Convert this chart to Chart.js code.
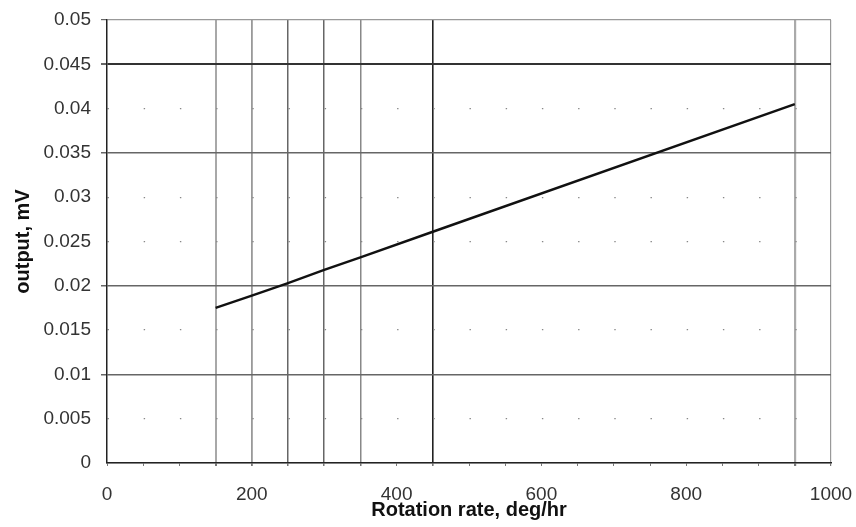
<!DOCTYPE html>
<html>
<head>
<meta charset="utf-8">
<script src="https://cdn.jsdelivr.net/npm/chart.js@4.4.0/dist/chart.umd.min.js"></script>
<style>
html,body{margin:0;padding:0;background:#fff;}
#wrap{width:856px;height:527px;}
</style>
</head>
<body>
<div id="wrap"><canvas id="c" width="856" height="527"></canvas></div>
<script>
// Data
const rotationRates = [150, 200, 250, 300, 350, 450, 950];
const outputMv = [0.0175, 0.0189, 0.0203, 0.0218, 0.0232, 0.0261, 0.0405];
const xLabelValues = [0, 200, 400, 600, 800, 1000];
const yLabelValues = [0, 0.005, 0.01, 0.015, 0.02, 0.025, 0.03, 0.035, 0.04, 0.045, 0.05];
const verticalRefLines = [150, 200, 250, 300, 350, 450, 950];
const horizontalRefLines = [0.01, 0.02, 0.035, 0.045];

const near = (a, b) => Math.abs(a - b) < 1e-9;
const inList = (v, list) => list.some(x => near(x, v));

const vStyle = {150:['#a8a8a8',2], 200:['#999',1.8], 250:['#666',1.5], 300:['#666',1.5], 350:['#888',1.5], 450:['#222',1.6], 950:['#aaa',2.2], 1000:['#999',1.2]};

const data = rotationRates.map((x, i) => ({x: x, y: outputMv[i]}));
const tickFont = {family: 'Liberation Sans', size: 19};
const titleFont = {family: 'Liberation Sans', size: 20, weight: 'bold'};

new Chart(document.getElementById('c'), {
  type: 'scatter',
  data: {
    datasets: [{
      data: data,
      showLine: true,
      borderColor: '#111',
      borderWidth: 2.4,
      pointRadius: 0,
      tension: 0
    }]
  },
  options: {
    responsive: false,
    animation: false,
    devicePixelRatio: 1,
    plugins: { legend: {display: false}, tooltip: {enabled: false} },
    layout: { padding: {left: 0, right: 25, top: 20, bottom: 0} },
    scales: {
      x: {
        type: 'linear', min: 0, max: 1000,
        afterFit: s => { s.height = 64; s.paddingLeft = 0; s.paddingRight = 0; },
        ticks: {
          stepSize: 50, autoSkip: false, maxRotation: 0, padding: 17,
          color: '#333', font: tickFont,
          callback: v => inList(v, xLabelValues) ? String(Math.round(v)) : ''
        },
        grid: {
          color: ctx => { const v = ctx.tick && ctx.tick.value; return (v in vStyle) ? vStyle[v][0] : 'rgba(0,0,0,0)'; },
          lineWidth: ctx => { const v = ctx.tick && ctx.tick.value; return (v in vStyle) ? vStyle[v][1] : 1; },
          tickColor: '#777', tickLength: 3
        },
        border: { display: true, color: '#222', width: 1.5 },
        title: {
          display: true, text: 'Rotation rate, deg/hr', color: '#111',
          font: titleFont,
          padding: {top: 0, bottom: 5}
        }
      },
      y: {
        type: 'linear', min: 0, max: 0.05,
        afterFit: s => { s.width = 107; s.paddingTop = 0; s.paddingBottom = 0; },
        ticks: {
          stepSize: 0.005, autoSkip: false, padding: 10,
          color: '#333', font: tickFont,
          callback: v => { const m = yLabelValues.find(x => near(x, v)); return m === undefined ? '' : String(m); }
        },
        grid: {
          color: ctx => {
            const v = ctx.tick && ctx.tick.value;
            if (v === undefined) return '#888';
            if (near(v, 0.045)) return '#333';
            if (inList(v, horizontalRefLines)) return '#666';
            if (near(v, 0.05)) return '#999';
            return '#888';
          },
          lineWidth: ctx => {
            const v = ctx.tick && ctx.tick.value;
            if (v !== undefined && near(v, 0.045)) return 2;
            if (v !== undefined && inList(v, horizontalRefLines)) return 1.5;
            return 1.2;
          },
          tickColor: ctx => {
            const v = ctx.tick && ctx.tick.value;
            if (v !== undefined && (inList(v, horizontalRefLines) || near(v, 0.05))) return '#666';
            return 'rgba(0,0,0,0)';
          },
          tickLength: 6
        },
        border: {
          display: true, color: '#222', width: 1.5,
          dash: ctx => {
            const v = ctx.tick && ctx.tick.value;
            if (v === undefined || inList(v, horizontalRefLines) || near(v, 0.05) || near(v, 0)) return [];
            const w = ctx.chart.chartArea ? ctx.chart.chartArea.width / 20 : 36;
            return [1.4, w - 1.4];
          }
        },
        title: {
          display: true, text: 'output, mV', color: '#111',
          font: titleFont,
          padding: {top: 11, bottom: 0}
        }
      }
    }
  }
});
</script>
</body>
</html>
